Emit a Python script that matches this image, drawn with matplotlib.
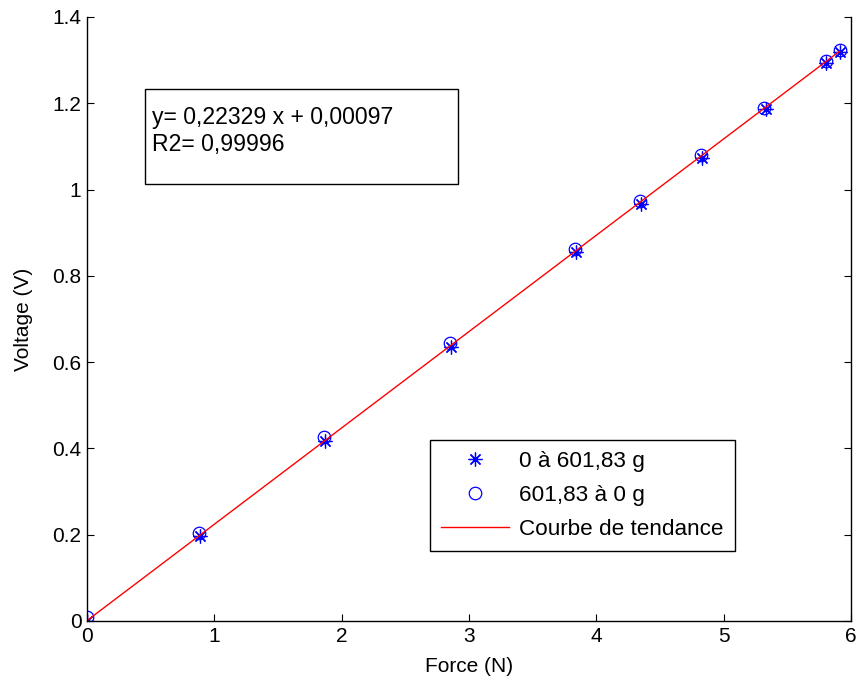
import numpy as np
import matplotlib.pyplot as plt
from matplotlib.patches import Rectangle

# data
force_up = [0.0, 0.89, 1.87, 2.86, 3.84, 4.35, 4.83, 5.33, 5.80, 5.91]
volt_up = [0.001, 0.196, 0.418, 0.636, 0.855, 0.966, 1.074, 1.186, 1.294, 1.318]
force_down = [0.0, 0.88, 1.86, 2.85, 3.83, 4.34, 4.82, 5.32, 5.80, 5.91]
volt_down = [0.009, 0.205, 0.426, 0.644, 0.863, 0.973, 1.080, 1.190, 1.298, 1.323]
slope = 0.22329
intercept = 0.00097
fit_x = [0.0, 5.91]

legend_labels = ['0 à 601,83 g', '601,83 à 0 g', 'Courbe de tendance']
eq_text = 'y= 0,22329 x + 0,00097\nR2= 0,99996'

plt.rcParams['font.family'] = ['Liberation Sans', 'DejaVu Sans']
fontsize = 15

fig = plt.figure(figsize=(8.56, 6.83), dpi=100)
ax = fig.add_axes([87 / 856, 62 / 683, 764 / 856, 604 / 683])

# matlab style asterisk: 8 thin spokes
ax.plot(force_up, volt_up, linestyle='none', marker=(8, 2, 0), ms=10, mew=0.9,
        color='blue', label=legend_labels[0])
ax.plot(force_down, volt_down, linestyle='none', marker='o', ms=9, mew=0.9,
        mfc='none', mec='blue', label=legend_labels[1])
fit_y = [slope * x + intercept for x in fit_x]
ax.plot(fit_x, fit_y, color='red', lw=1.0, label=legend_labels[2])

ax.set_xlim(0, 6)
ax.set_ylim(0, 1.4)
ax.set_xticks(np.arange(0, 7, 1))
ax.set_yticks(np.arange(0, 1.41, 0.2))
ax.set_yticklabels(['0', '0.2', '0.4', '0.6', '0.8', '1', '1.2', '1.4'])
ax.tick_params(direction='in', length=5, labelsize=fontsize, right=True,
               pad=4)
ax.spines['top'].set_visible(False)
for s in ['left', 'bottom', 'right']:
    ax.spines[s].set_linewidth(1.0)

ax.set_xlabel('Force (N)', fontsize=fontsize, labelpad=8)
ax.set_ylabel('Voltage (V)', fontsize=fontsize, labelpad=14)

# equation box
ax.add_patch(Rectangle((0.076, 0.7235), 0.41, 0.1575, transform=ax.transAxes,
                       fill=False, edgecolor='black', lw=1.0))
ax.text(0.085, 0.853, eq_text, transform=ax.transAxes, fontsize=16.6,
        va='top', ha='left', linespacing=1.25)

leg = ax.legend(loc='upper left', bbox_to_anchor=(0.449, 0.30),
                borderaxespad=0, fontsize=16.2, handlelength=3.0,
                handletextpad=0.45, fancybox=False, framealpha=1,
                borderpad=0.5, labelspacing=0.58)
leg.get_frame().set_edgecolor('black')
leg.get_frame().set_linewidth(1.0)

plt.savefig('out.png', dpi=100)
